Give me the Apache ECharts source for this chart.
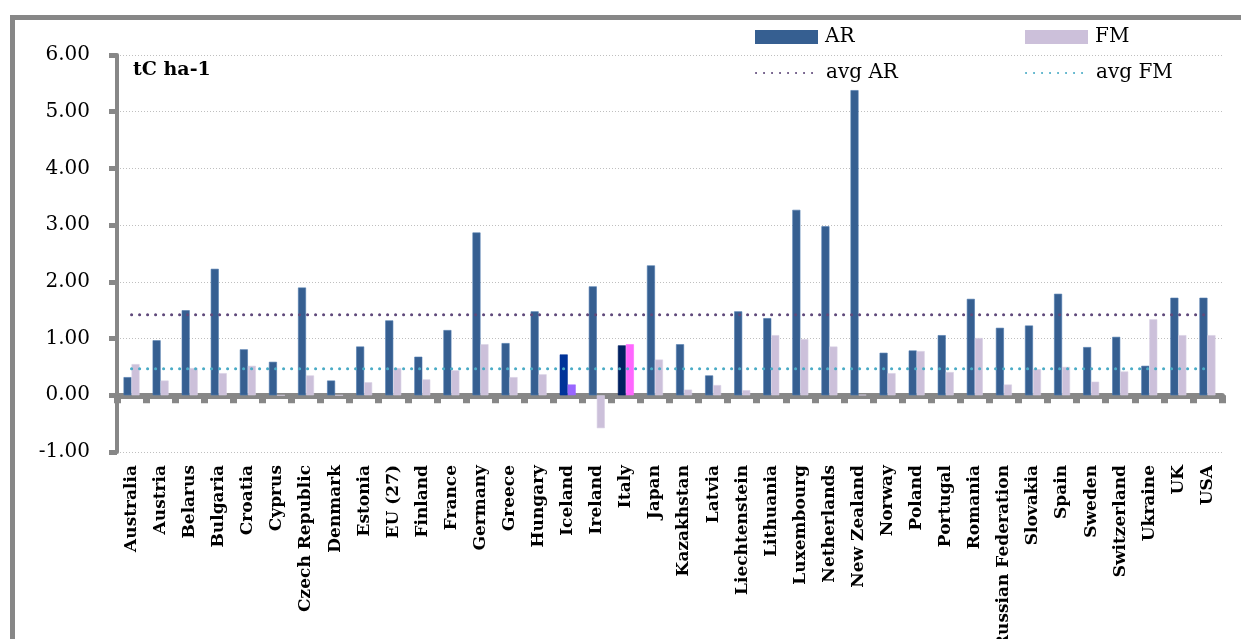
<!DOCTYPE html>
<html>
<head>
<meta charset="utf-8">
<script src="https://cdn.jsdelivr.net/npm/echarts@6/dist/echarts.min.js"></script>
<style>
html,body{margin:0;padding:0;background:#fff;}
#chart{width:1241px;height:639px;}
</style>
</head>
<body>
<div id="chart"></div>
<script>
var categories = ["Australia","Austria","Belarus","Bulgaria","Croatia","Cyprus","Czech Republic","Denmark","Estonia","EU (27)","Finland","France","Germany","Greece","Hungary","Iceland","Ireland","Italy","Japan","Kazakhstan","Latvia","Liechtenstein","Lithuania","Luxembourg","Netherlands","New Zealand","Norway","Poland","Portugal","Romania","Russian Federation","Slovakia","Spain","Sweden","Switzerland","Ukraine","UK","USA"];
var arValues = [0.32,0.97,1.50,2.23,0.81,0.59,1.90,0.26,0.86,1.32,0.68,1.15,2.87,0.92,1.48,0.72,1.92,0.88,2.29,0.90,0.35,1.48,1.36,3.27,2.98,5.38,0.75,0.79,1.06,1.70,1.19,1.23,1.79,0.85,1.03,0.52,1.72,1.72];
var fmValues = [0.55,0.26,0.48,0.39,0.52,0,0.35,0,0.23,0.48,0.28,0.44,0.90,0.32,0.37,0.19,-0.58,0.90,0.63,0.10,0.18,0.09,1.06,0.99,0.86,0.01,0.39,0.78,0.41,1.01,0.19,0.46,0.50,0.24,0.42,1.34,1.06,1.06];
var avgAR = 1.42;
var avgFM = 0.47;
var yTicks = [-1,0,1,2,3,4,5,6];

var arHighlight = {"Iceland":"#003399","Italy":"#002060"};
var fmHighlight = {"Iceland":"#9966FF","Italy":"#FF66FF"};

var FONT = "DejaVu Serif";
var arData = arValues.map(function(v,i){
  var c = arHighlight[categories[i]];
  return c ? {value:v,itemStyle:{color:c,borderColor:c}} : v;
});
var fmData = fmValues.map(function(v,i){
  var c = fmHighlight[categories[i]];
  return c ? {value:v,itemStyle:{color:c,borderColor:c}} : v;
});
var avgARLine = categories.map(function(){return avgAR;});
var avgFMLine = categories.map(function(){return avgFM;});

var chart = echarts.init(document.getElementById('chart'), null, {renderer:'canvas'});
function legendAt(name,left,top,isLine){
  var l = {data:[name],left:left,top:top,itemWidth:63,itemHeight:14,itemGap:0,padding:0,
    textStyle:{fontFamily:FONT,fontSize:20,color:'#000',padding:[0,0,0,2]},selectedMode:false};
  if(isLine){ l.itemStyle = {opacity:0}; } else { l.icon = 'rect'; l.itemStyle = {borderWidth:0}; }
  return l;
}
chart.setOption({
  backgroundColor:'#fff',
  animation:false,
  graphic:[
    {type:'rect',shape:{x:12.5,y:17.5,width:1300,height:700},style:{fill:'none',stroke:'#878787',lineWidth:5},silent:true,z:-1},
    {type:'text',left:133,top:61,style:{text:'tC ha-1',font:'bold 19px "DejaVu Serif"',fill:'#000'}}
  ],
  legend:[
    legendAt('AR',755,27,false),
    legendAt('FM',1025,27,false),
    legendAt('avg AR',755,63,true),
    legendAt('avg FM',1025,63,true)
  ],
  grid:{left:117,right:19,top:55,bottom:187,containLabel:false,outerBoundsMode:'none'},
  xAxis:[
    {type:'category',data:categories,boundaryGap:true,
     axisLine:{onZero:true,lineStyle:{color:'#878787',width:6}},
     axisTick:{show:true,interval:0,length:8,lineStyle:{color:'#878787',width:7}},
     axisLabel:{show:false},splitLine:{show:false}},
    {type:'category',data:categories,position:'bottom',boundaryGap:true,
     axisLine:{show:false,onZero:false},axisTick:{show:false},
     axisLabel:{rotate:90,interval:0,margin:13,fontFamily:FONT,fontWeight:'bold',fontSize:17,color:'#000'}}
  ],
  yAxis:{type:'value',min:-1,max:6,interval:1,
    axisLine:{show:true,onZero:false,lineStyle:{color:'#878787',width:4}},
    axisTick:{show:true,inside:false,length:8,lineStyle:{color:'#878787',width:5}},
    axisLabel:{margin:27,fontFamily:FONT,fontSize:20,color:'#000',formatter:function(v){return v.toFixed(2);}},
    splitLine:{show:true,lineStyle:{color:'#BFBFBF',width:1,type:[1,2]}}
  },
  series:[
    {name:'AR',type:'bar',xAxisIndex:0,data:arData,barWidth:8,barGap:'0%',
     itemStyle:{color:'#365F91',borderColor:'#4F7AAE',borderWidth:0.6}},
    {name:'FM',type:'bar',xAxisIndex:0,data:fmData,barWidth:8,barGap:'0%',
     itemStyle:{color:'#CCC0DA',borderColor:'#D9D0E4',borderWidth:0.6}},
    {name:'avg AR',type:'line',xAxisIndex:0,data:avgARLine,symbol:'none',z:5,
     itemStyle:{color:'#604A7B'},
     lineStyle:{color:'#604A7B',width:3,type:[0.1,7.9],cap:'round'}},
    {name:'avg FM',type:'line',xAxisIndex:0,data:avgFMLine,symbol:'none',z:5,
     itemStyle:{color:'#4BACC6'},
     lineStyle:{color:'#4BACC6',width:3,type:[0.1,7.9],cap:'round'}}
  ]
});
</script>
</body>
</html>
